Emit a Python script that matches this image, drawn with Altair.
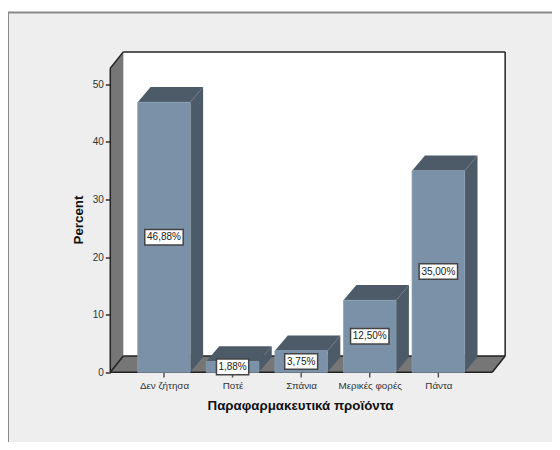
import altair as alt
import pandas as pd

categories = ["Δεν ζήτησα", "Ποτέ", "Σπάνια", "Μερικές φορές", "Πάντα"]
percents = [46.88, 1.88, 3.75, 12.50, 35.00]
labels = ["46,88%", "1,88%", "3,75%", "12,50%", "35,00%"]
box_half = [0.28, 0.235, 0.24, 0.28, 0.28]

X_DOM = [-2.274, 5.657]
Y_DOM = [-12.1, 62.47]
HALF = 0.383
DX = 0.188
DY = 2.66
WALL_L, WALL_R, FLOOR_R = -0.783, -0.593, 4.786
FLOOR_D = 2.83
WALL_H = 52.8
TICK_LEN = 0.9
FRONT = "#7b91a7"
DARK = "#4d5b68"
WALL = "#767676"
BG = "#eeeeee"

xs = alt.Scale(domain=X_DOM, nice=False, zero=False)
ys = alt.Scale(domain=Y_DOM, nice=False, zero=False)
label_expr = "[" + ",".join(f"'{c}'" for c in categories) + "][datum.value]"

X = alt.X("x:Q", scale=xs, title="Παραφαρμακευτικά προϊόντα", axis=alt.Axis(
    orient="bottom", offset=-69.7, values=[0, 1, 2, 3, 4], labelExpr=label_expr, domain=False, grid=False,
    ticks=False, labelFontSize=9.8, labelColor="#333333", labelPadding=8,
    labelFont="Liberation Sans", labelOverlap=False, titleFont="Liberation Sans", titleFontSize=13.3,
    titleFontWeight="bold", titleColor="#111111", titleX=292, titleY=33, titleBaseline="middle",
    titleAlign="center"))
Y = alt.Y("y:Q", scale=ys, title="Percent", axis=alt.Axis(
    orient="left", offset=-102.3, values=[0, 10, 20, 30, 40, 50], domain=False, grid=False,
    tickColor="#333333", tickSize=5, tickWidth=1.5, labelFontSize=10, labelColor="#333333", labelPadding=2,
    labelFont="Liberation Sans", titleFont="Liberation Sans", titleFontSize=13.3, titleFontWeight="bold",
    titleColor="#111111", titleX=-32, titleY=207, titleAngle=270, titleBaseline="middle",
    titleAlign="center"))


def area(rows, color):
    df = pd.DataFrame(rows, columns=["id", "x", "y", "y2"])
    return alt.Chart(df).mark_area(color=color, opacity=1, interpolate="linear").encode(
        x=X, y=Y, y2="y2:Q", detail="id:N")


def rules(rows, color, width):
    df = pd.DataFrame(rows, columns=["x", "x2", "y", "y2"])
    return alt.Chart(df).mark_rule(color=color, strokeWidth=width).encode(x=X, x2="x2:Q", y=Y, y2="y2:Q")


frame = rules([(X_DOM[0], X_DOM[1], Y_DOM[1], Y_DOM[1]), (X_DOM[0], X_DOM[0], Y_DOM[0], Y_DOM[1])], "#8a8a8a", 2)
xticks = rules([(i, i, -TICK_LEN, 0) for i in range(5)], "#555555", 1.5)

back = alt.Chart(pd.DataFrame({"x": [WALL_R], "x2": [FLOOR_R + DX], "y": [FLOOR_D], "y2": [WALL_H + FLOOR_D]})).mark_rect(
    color="white").encode(x=X, x2="x2:Q", y=Y, y2="y2:Q")
wall = area([("w", WALL_L, 0, WALL_H), ("w", WALL_R, FLOOR_D, WALL_H + FLOOR_D)], WALL)
floor = area([("f", WALL_L, 0, 0), ("f", WALL_R, 0, FLOOR_D), ("f", FLOOR_R, 0, FLOOR_D), ("f", FLOOR_R + DX, FLOOR_D, FLOOR_D)], WALL)
t = WALL_H + FLOOR_D
edges = rules([
    (WALL_L, WALL_L, 0, WALL_H), (WALL_L, WALL_R, WALL_H, t), (WALL_R, FLOOR_R + DX, t, t),
    (FLOOR_R + DX, FLOOR_R + DX, FLOOR_D, t), (FLOOR_R, FLOOR_R + DX, 0, FLOOR_D),
    (WALL_L, FLOOR_R, 0, 0), (WALL_L, WALL_R, 0, FLOOR_D), (WALL_R, FLOOR_R + DX, FLOOR_D, FLOOR_D),
], "#222222", 1.5)

dark_rows = []
for i, v in enumerate(percents):
    l, r = i - HALF, i + HALF
    dark_rows += [(f"s{i}", r, 0, v), (f"s{i}", r + DX, DY, v + DY)]
    dark_rows += [(f"t{i}", l, v, v), (f"t{i}", l + DX, v, v + DY), (f"t{i}", r, v, v + DY), (f"t{i}", r + DX, v + DY, v + DY)]
dark = area(dark_rows, DARK)

front = alt.Chart(pd.DataFrame({
    "x": [i - HALF for i in range(5)], "x2": [i + HALF for i in range(5)], "y": [0.0] * 5, "y2": percents,
})).mark_rect(color=FRONT, stroke="#8a9fb3", strokeWidth=0.75).encode(x=X, x2="x2:Q", y=Y, y2="y2:Q")

boxes = pd.DataFrame({
    "x": [i - h for i, h in enumerate(box_half)], "x2": [i + h for i, h in enumerate(box_half)],
    "y": [v / 2 - 1.35 for v in percents], "y2": [v / 2 + 1.35 for v in percents],
})
box = alt.Chart(boxes).mark_rect(fill="white", stroke="#444444", strokeWidth=1.5).encode(x=X, x2="x2:Q", y=Y, y2="y2:Q")
text = alt.Chart(pd.DataFrame({"x": list(range(5)), "y": [v / 2 for v in percents], "t": labels})).mark_text(
    font="Liberation Sans", fontSize=10, color="#222222", baseline="middle", align="center",
).encode(x=X, y=Y, text="t:N")

chart = alt.layer(frame, xticks, back, wall, floor, edges, dark, front, box, text).properties(
    width=544, height=429.5,
    autosize=alt.AutoSizeParams(type="none"),
    padding={"left": 0, "top": 4.5, "right": 0, "bottom": 0},
    background="white",
).configure_view(fill=BG, stroke=None)

chart.save("out.html", embed_options={"renderer": "svg", "actions": False})
